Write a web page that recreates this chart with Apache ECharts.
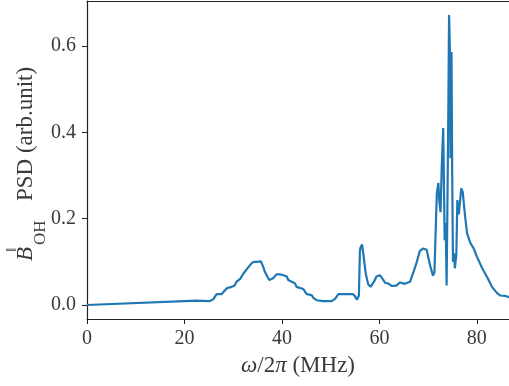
<!DOCTYPE html>
<html>
<head>
<meta charset="utf-8">
<script src="https://cdn.jsdelivr.net/npm/echarts@6/dist/echarts.min.js"></script>
<style>
  html, body { margin: 0; padding: 0; background: #fff; }
  #chart { width: 509px; height: 386px; }
</style>
</head>
<body>
<div id="chart"></div>
<script>
// PSD curve (frequency in MHz, PSD in arb. units)
const freq = [0, 22.5, 25.2, 25.9, 26.6, 27.6, 28.0, 28.7, 29.7, 30.3, 30.7, 31.4, 32.1, 32.8, 33.3, 33.8, 34.3, 34.8, 35.7, 36.1,
  36.5, 37.0, 37.4, 37.8, 38.2, 38.9, 39.6, 40.3, 41.0, 41.3, 41.6, 42.7, 43.0, 43.4, 44.4, 44.8, 45.1, 46.1, 46.5, 47.1,
  48.5, 50.2, 50.9, 51.6, 53.3, 54.6, 55.0, 55.4, 55.8, 56.0, 56.1, 56.3, 56.45, 56.6, 56.8, 57.2, 57.7, 58.2, 58.9, 59.4,
  60.1, 60.8, 61.2, 61.8, 62.5, 63.5, 64.2, 65.2, 66.3, 66.9, 67.6, 68.3, 69.0, 69.7, 70.4, 71.0, 71.3, 71.6, 71.8, 72.1,
  72.3, 72.55, 72.8, 73.1, 73.4, 73.6, 73.8, 74.0, 74.15, 74.3, 74.45, 74.6, 74.8, 74.95, 75.1, 75.3, 75.5, 75.8, 76.0, 76.3,
  76.8, 77.1, 77.6, 78.0, 78.7, 79.4, 80.0, 80.5, 81.1, 82.1, 83.1, 84.2, 84.8, 85.8, 86.6];
const psd = [0, 0.01, 0.009, 0.013, 0.025, 0.025, 0.03, 0.039, 0.042, 0.045, 0.054, 0.06, 0.073, 0.083, 0.09, 0.097, 0.1, 0.1, 0.101, 0.09,
  0.077, 0.066, 0.058, 0.058, 0.062, 0.071, 0.071, 0.069, 0.066, 0.058, 0.054, 0.05, 0.042, 0.039, 0.037, 0.03, 0.025, 0.023, 0.016, 0.011,
  0.009, 0.009, 0.014, 0.025, 0.025, 0.025, 0.02, 0.012, 0.022, 0.125, 0.132, 0.128, 0.14, 0.143, 0.11, 0.073, 0.048, 0.042, 0.054, 0.066,
  0.069, 0.058, 0.051, 0.05, 0.044, 0.045, 0.052, 0.049, 0.054, 0.073, 0.097, 0.125, 0.131, 0.128, 0.092, 0.068, 0.075, 0.19, 0.26, 0.283,
  0.24, 0.215, 0.32, 0.41, 0.15, 0.19, 0.045, 0.042, 0.45, 0.672, 0.6, 0.34, 0.586, 0.3, 0.1, 0.12, 0.085, 0.12, 0.243, 0.21,
  0.27, 0.262, 0.205, 0.166, 0.143, 0.13, 0.112, 0.1, 0.085, 0.065, 0.042, 0.027, 0.022, 0.021, 0.018];

const xTicks = [0, 20, 40, 60, 80];
const yTicks = [0, 0.2, 0.4, 0.6];

const serif = '"Liberation Serif", "DejaVu Serif", serif';
const textColor = '#3a3a3a';

const chart = echarts.init(document.getElementById('chart'));

// y label built by hand so the super/subscript can stack
const yLabel = {
  type: 'group',
  x: 26,
  y: 261,
  rotation: Math.PI / 2,
  children: [
    { type: 'text', x: 0, y: 0, style: { text: 'B', font: 'italic 23px ' + serif, fill: textColor, verticalAlign: 'middle' } },
    { type: 'text', x: 9, y: -14, style: { text: '\u2016', font: '15px ' + serif, fill: textColor, verticalAlign: 'middle' } },
    { type: 'text', x: 16, y: 15, style: { text: 'OH', font: '17px ' + serif, fill: textColor, verticalAlign: 'middle' } },
    { type: 'text', x: 60, y: 0, style: { text: 'PSD (arb.unit)', font: '23px ' + serif, fill: textColor, verticalAlign: 'middle' } }
  ]
};

chart.setOption({
  animation: false,
  grid: { left: 87, right: 0, top: 1, bottom: 67 },
  xAxis: [
    {
      type: 'value',
      min: 0,
      max: 86.6,
      name: '{i|ω}/2{i|π} (MHz)',
      nameLocation: 'middle',
      nameGap: 35,
      nameTextStyle: {
        fontFamily: serif, fontSize: 23, color: textColor,
        rich: { i: { fontFamily: serif, fontSize: 23, fontStyle: 'italic', color: textColor } }
      },
      splitLine: { show: false },
      axisLine: { show: true, onZero: false, lineStyle: { color: '#222', width: 1.2 } },
      axisTick: { show: true, length: 5, customValues: xTicks, lineStyle: { color: '#222', width: 1 } },
      axisLabel: { customValues: xTicks, margin: 10, fontFamily: serif, fontSize: 20, color: textColor }
    },
    {
      type: 'value',
      position: 'top',
      min: 0,
      max: 86.6,
      splitLine: { show: false },
      axisLine: { show: true, onZero: false, lineStyle: { color: '#222', width: 1.2 } },
      axisTick: { show: false },
      axisLabel: { show: false }
    }
  ],
  yAxis: {
    type: 'value',
    min: -0.0325,
    max: 0.7045,
    splitLine: { show: false },
    axisLine: { show: true, onZero: false, lineStyle: { color: '#222', width: 1.2 } },
    axisTick: { show: true, length: 5, customValues: yTicks, lineStyle: { color: '#222', width: 1 } },
    axisLabel: {
      customValues: yTicks, margin: 11, fontFamily: serif, fontSize: 20, color: textColor,
      formatter: (v) => v.toFixed(1)
    }
  },
  graphic: [yLabel],
  series: [
    {
      type: 'line',
      data: freq.map((f, i) => [f, psd[i]]),
      showSymbol: false,
      lineStyle: { color: '#1f77b4', width: 2.2 },
      itemStyle: { color: '#1f77b4' }
    }
  ]
});
</script>
</body>
</html>
